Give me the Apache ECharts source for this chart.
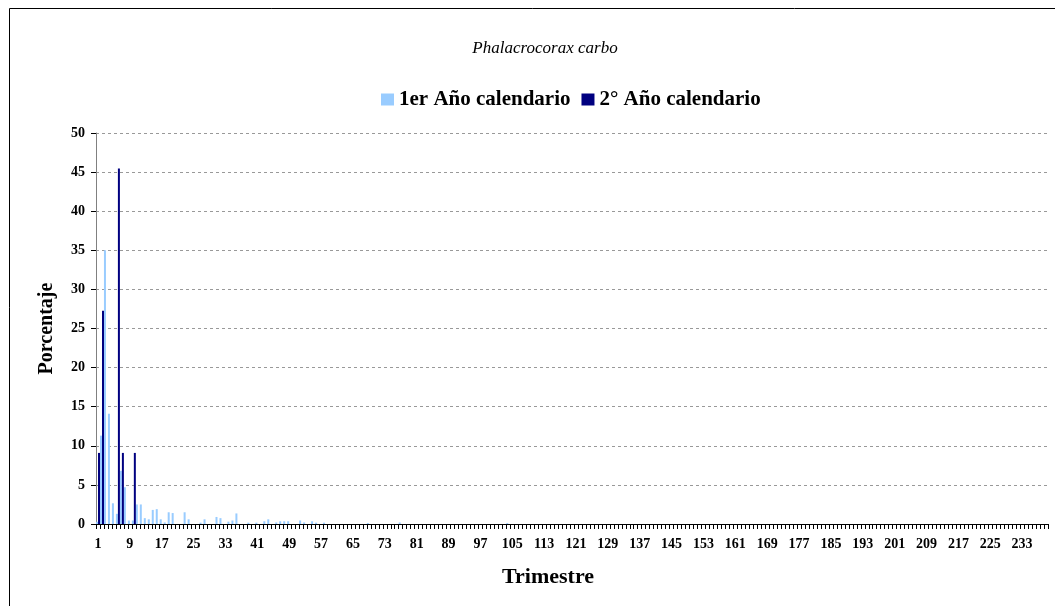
<!DOCTYPE html>
<html>
<head>
<meta charset="utf-8">
<script src="https://cdn.jsdelivr.net/npm/echarts@6/dist/echarts.min.js"></script>
<style>
  html, body { margin: 0; padding: 0; background: #fff; }
  #chart { width: 1055px; height: 606px; }
</style>
</head>
<body>
<div id="chart"></div>
<script>
  // trimestres 1..239
  const numTrimestres = 239
  const trimestres = []
  for (let i = 1; i <= numTrimestres; i++) trimestres.push(String(i))

  // [trimestre, porcentaje] - only the non-empty ones
  const primerAnio = [
    ['1', 0.3], ['2', 11.3], ['3', 35.0], ['4', 14.1], ['5', 2.65], ['6', 1.3],
    ['7', 6.8], ['8', 4.7], ['9', 0.45], ['10', 0.45], ['11', 2.5], ['12', 2.5],
    ['13', 0.75], ['14', 0.6], ['15', 1.8], ['16', 1.9], ['17', 0.6], ['18', 0.2],
    ['19', 1.5], ['20', 1.4], ['23', 1.5], ['24', 0.6], ['27', 0.17], ['28', 0.6],
    ['31', 0.9], ['32', 0.75], ['34', 0.3], ['35', 0.45], ['36', 1.35], ['39', 0.17],
    ['41', 0.17], ['43', 0.35], ['44', 0.6], ['46', 0.2], ['47', 0.35], ['48', 0.35],
    ['49', 0.35], ['52', 0.45], ['53', 0.2], ['55', 0.35], ['56', 0.17], ['58', 0.17],
    ['69', 0.12], ['77', 0.2], ['104', 0.12]
  ]
  const segundoAnio = [
    ['1', 9.09], ['2', 27.27], ['6', 45.45], ['7', 9.09], ['10', 9.09]
  ]

  const serieNames = ['1er Año calendario', '2° Año calendario']
  const colores = ['#99CCFF', '#000080']

  const fuente = 'Liberation Serif'

  let chart = echarts.init(document.getElementById('chart'))

  chart.setOption({
    animation: false,
    title: {
      text: 'Phalacrocorax carbo',
      left: 540,
      top: 35,
      textAlign: 'center',
      textStyle: {fontFamily: fuente, fontStyle: 'italic', fontWeight: 'normal', fontSize: 17, color: '#000'}
    },
    legend: {
      data: serieNames,
      top: 84,
      left: 376,
      itemWidth: 13,
      itemHeight: 12,
      itemGap: 11,
      icon: 'rect',
      textStyle: {fontFamily: fuente, fontWeight: 'bold', fontSize: 21, color: '#000'}
    },
    grid: {left: 96, right: 7, top: 133, bottom: 82},
    xAxis: {
      type: 'category',
      data: trimestres,
      boundaryGap: true,
      axisLine: {lineStyle: {color: '#000', width: 1}},
      axisTick: {show: true, interval: 0, length: 5, lineStyle: {color: '#000'}},
      axisLabel: {interval: 7, margin: 13, fontFamily: fuente, fontWeight: 'bold', fontSize: 14, color: '#000'},
      splitLine: {show: false}
    },
    yAxis: {
      type: 'value',
      min: 0,
      max: 50,
      interval: 5,
      name: 'Porcentaje',
      nameLocation: 'middle',
      nameGap: 39,
      nameTextStyle: {fontFamily: fuente, fontWeight: 'bold', fontSize: 20, color: '#000'},
      axisLine: {show: true, lineStyle: {color: '#808080', width: 1}},
      axisTick: {show: true, length: 5, lineStyle: {color: '#000'}},
      axisLabel: {margin: 11, fontFamily: fuente, fontWeight: 'bold', fontSize: 14, color: '#000'},
      splitLine: {show: true, lineStyle: {color: '#999', type: [3, 3], width: 1}}
    },
    graphic: [
      {
        type: 'text',
        left: 502,
        top: 566,
        style: {text: 'Trimestre', font: 'bold 22px "Liberation Serif"', fill: '#000'}
      },
      {
        type: 'rect',
        silent: true,
        shape: {x: 9.5, y: 8.5, width: 1200, height: 800},
        style: {fill: 'none', stroke: '#000', lineWidth: 1}
      }
    ],
    series: [
      {
        name: serieNames[0],
        type: 'bar',
        data: primerAnio,
        barWidth: 2,
        barGap: '0%',
        itemStyle: {color: colores[0]}
      },
      {
        name: serieNames[1],
        type: 'bar',
        data: segundoAnio,
        barWidth: 2,
        barGap: '0%',
        itemStyle: {color: colores[1]}
      }
    ]
  })
</script>
</body>
</html>
